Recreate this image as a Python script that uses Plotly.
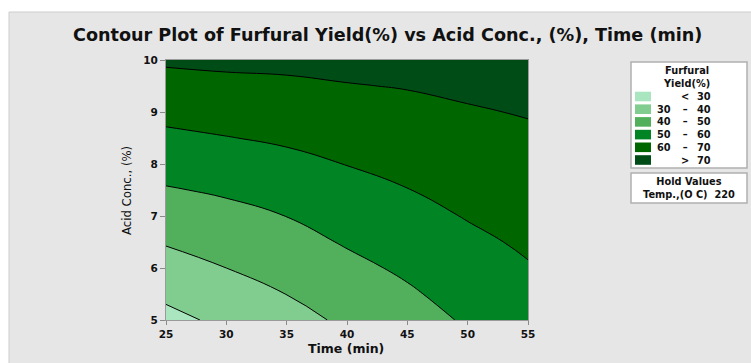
import plotly.graph_objects as go

# ---- data ----
time_min = [25, 30, 35, 40, 45, 50, 55]
acid_conc = [5.0, 5.5, 6.0, 6.5, 7.0, 7.5, 8.0, 8.5, 9.0, 9.5, 10.0]
furfural_yield = [
    [27.3, 32.1, 36.9, 41.5, 46.3, 51.0, 55.6],
    [31.8, 36.0, 40.1, 44.6, 48.8, 53.4, 57.5],
    [36.2, 40.0, 43.5, 47.7, 51.5, 55.8, 59.4],
    [40.7, 43.7, 46.8, 50.8, 54.3, 58.1, 61.3],
    [45.0, 47.4, 50.1, 54.0, 57.1, 60.5, 63.1],
    [49.3, 51.2, 53.9, 57.1, 59.8, 62.7, 65.0],
    [53.7, 55.5, 57.6, 60.2, 62.5, 64.9, 66.8],
    [58.1, 59.7, 61.3, 63.4, 65.1, 67.1, 68.6],
    [62.5, 63.8, 64.9, 66.5, 67.8, 69.3, 70.5],
    [66.9, 67.8, 68.5, 69.6, 70.4, 71.5, 72.3],
    [71.2, 71.9, 72.1, 72.7, 73.1, 73.7, 74.1],
]
levels = [30, 40, 50, 60, 70]
legend_lo = ["", "30", "40", "50", "60", ""]
legend_mid = ["<", "–", "–", "–", "–", ">"]
legend_hi = ["30", "40", "50", "60", "70", "70"]
band_colors = ["#a9e6bf", "#80cd8f", "#52b05c", "#008424", "#006600", "#004c17"]
x_ticks = [25, 30, 35, 40, 45, 50, 55]
y_ticks = [5, 6, 7, 8, 9, 10]

# ---- layout geometry (pixels) ----
W, H = 751, 363
PL, PR, PT, PB = 166, 528, 60, 320


def px(x):
    return (x - PL) / (PR - PL)


def py(y):
    return (PB - y) / (PB - PT)


n = len(band_colors)
colorscale = [[i / (n - 1), c] for i, c in enumerate(band_colors)]

fig = go.Figure()
fig.add_trace(go.Contour(
    x=time_min, y=acid_conc, z=furfural_yield,
    autocontour=False,
    contours=dict(start=levels[0], end=levels[-1], size=levels[1] - levels[0],
                  coloring="fill"),
    colorscale=colorscale,
    line=dict(color="black", width=1, smoothing=1.3),
    showscale=False,
    hoverinfo="skip",
))

shapes = []
annotations = []
WIDE = "DejaVu Sans"
COND = "DejaVu Sans Condensed"

# gray panel background
shapes.append(dict(type="rect", xref="paper", yref="paper", layer="below",
                   x0=px(9), x1=px(W + 5), y0=py(12), y1=py(H + 5),
                   fillcolor="#e6e6e6", line=dict(color="#cdcdcd", width=1)))

# legend boxes
shapes.append(dict(type="rect", xref="paper", yref="paper",
                   x0=px(631), x1=px(747), y0=py(62), y1=py(168),
                   fillcolor="white", line=dict(color="#b0b0b0", width=1.5)))
shapes.append(dict(type="rect", xref="paper", yref="paper",
                   x0=px(631), x1=px(747), y0=py(173), y1=py(203),
                   fillcolor="white", line=dict(color="#b0b0b0", width=1.5)))

lf = dict(family=WIDE, size=9.8, color="#111", weight="bold")


def note(text, x, y, font, **kw):
    annotations.append(dict(text=text, x=px(x), y=py(y), xref="paper", yref="paper",
                            showarrow=False, font=font, xanchor=kw.pop("xanchor", "center"),
                            yanchor="middle", **kw))


note("Furfural<br>Yield(%)", 686, 76.5, lf)
row0, step = 96.5, 12.7
for i, c in enumerate(band_colors):
    yc = row0 + i * step
    shapes.append(dict(type="rect", xref="paper", yref="paper",
                       x0=px(635), x1=px(651), y0=py(yc - 4.8), y1=py(yc + 4.8),
                       fillcolor=c, line=dict(width=0)))
rows_mid = row0 + (len(band_colors) - 1) * step / 2
note("<br>".join(t if t else "\u00a0" for t in legend_lo), 664, rows_mid, lf)
note("<br>".join(legend_mid), 685, rows_mid, lf)
note("<br>".join(legend_hi), 704, rows_mid, lf)
note("Hold Values<br>Temp.,(O C)  220", 689, 187.8, lf)

# title
note("Contour Plot of Furfural Yield(%) vs Acid Conc., (%), Time (min)", 387, 35.5,
     dict(family=WIDE, size=17.6, color="#111", weight="bold"))
# axis titles
note("Time (min)", 346, 348, dict(family=WIDE, size=12.5, color="#111", weight="bold"))
note("Acid Conc., (%)", 126, 191, dict(family=COND, size=13, color="#111"), textangle=-90)

tickfont = dict(family=WIDE, size=10.5, color="#111", weight="bold")
fig.update_layout(
    width=W, height=H,
    margin=dict(l=PL, r=W - PR, t=PT, b=H - PB),
    paper_bgcolor="white",
    plot_bgcolor="#e6e6e6",
    showlegend=False,
    shapes=shapes,
    annotations=annotations,
    xaxis=dict(range=[25, 55], tickvals=x_ticks, ticks="outside", ticklen=4,
               tickcolor="#8a8a8a", showline=True, linecolor="#9a9a9a", linewidth=1,
               mirror=True, showgrid=False, zeroline=False, tickfont=tickfont),
    yaxis=dict(range=[5, 10], tickvals=y_ticks, ticks="outside", ticklen=5,
               tickcolor="#8a8a8a", showline=True, linecolor="#9a9a9a", linewidth=1,
               mirror=True, showgrid=False, zeroline=False, tickfont=tickfont),
)

fig.write_html("out.html")
